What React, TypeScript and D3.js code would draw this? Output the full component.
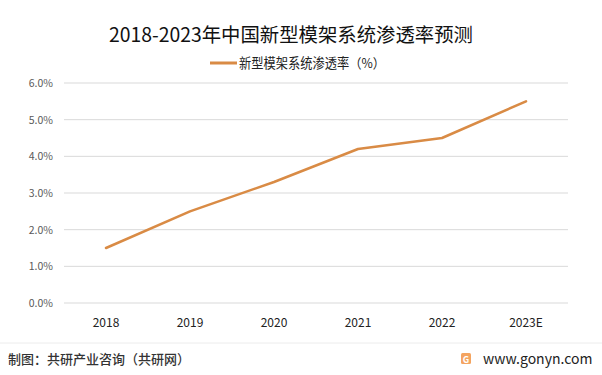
import React from "react";
import * as d3 from "d3";

const categories = ["2018", "2019", "2020", "2021", "2022", "2023E"];
const values = [1.5, 2.5, 3.3, 4.2, 4.5, 5.5];
const yTicks = [0, 1, 2, 3, 4, 5, 6];
const title = "2018-2023年中国新型模架系统渗透率预测";
const seriesName = "新型模架系统渗透率（%）";
const footerLeft = "制图：共研产业咨询（共研网）";
const footerRight = "www.gonyn.com";

const W = 602, H = 375;
const M = { left: 64, right: 34, top: 83, bottom: 72 };

export default function App() {
  const x = d3.scaleBand().domain(categories).range([M.left, W - M.right]);
  const y = d3.scaleLinear().domain([0, 6]).range([H - M.bottom, M.top]);
  const line = d3
    .line<number>()
    .x((_, i) => (x(categories[i]) as number) + x.bandwidth() / 2)
    .y((d) => y(d));
  const font = "'Microsoft YaHei', 'Noto Sans CJK SC', 'Noto Sans', sans-serif";
  return (
    <svg width={W} height={H} style={{ position: "absolute", left: 0, top: 0, background: "#fff" }} fontFamily={font}>
      <rect width={W} height={H} fill="#fff" />
      <text x={291} y={42} textAnchor="middle" fontSize={19.5} fill="#111" textLength={364} lengthAdjust="spacingAndGlyphs">{title}</text>
      <line x1={210} x2={237} y1={63} y2={63} stroke="#D98B45" strokeWidth={3} />
      <text x={239} y={68} fontSize={13.3} fill="#222" textLength={146} lengthAdjust="spacingAndGlyphs">{seriesName}</text>
      {yTicks.map((t) => (
        <g key={t}>
          <line x1={M.left} x2={W - M.right} y1={y(t)} y2={y(t)} stroke="#d9d9d9" strokeWidth={1} />
          <text x={53} y={y(t) + 4} textAnchor="end" fontSize={10.5} fill="#595959">{t.toFixed(1) + "%"}</text>
        </g>
      ))}
      {categories.map((c) => (
        <text key={c} x={(x(c) as number) + x.bandwidth() / 2} y={327} textAnchor="middle" fontSize={12} fill="#222">{c}</text>
      ))}
      <path d={line(values) || ""} fill="none" stroke="#D98B45" strokeWidth={2.5} strokeLinejoin="round" strokeLinecap="round" />
      <line x1={0} x2={W} y1={343} y2={343} stroke="#ececec" strokeWidth={1} />
      <text x={8} y={364} fontSize={13} fill="#333" fontWeight={500}>{footerLeft}</text>
      <g>
        <rect x={461} y={353} width={10} height={11} rx={1.5} fill="#F4A460" />
        <text x={466} y={362.5} textAnchor="middle" fontSize={9} fontWeight={700} fill="#fff">G</text>
      </g>
      <text x={483} y={364} fontSize={14} fill="#222">{footerRight}</text>
    </svg>
  );
}
